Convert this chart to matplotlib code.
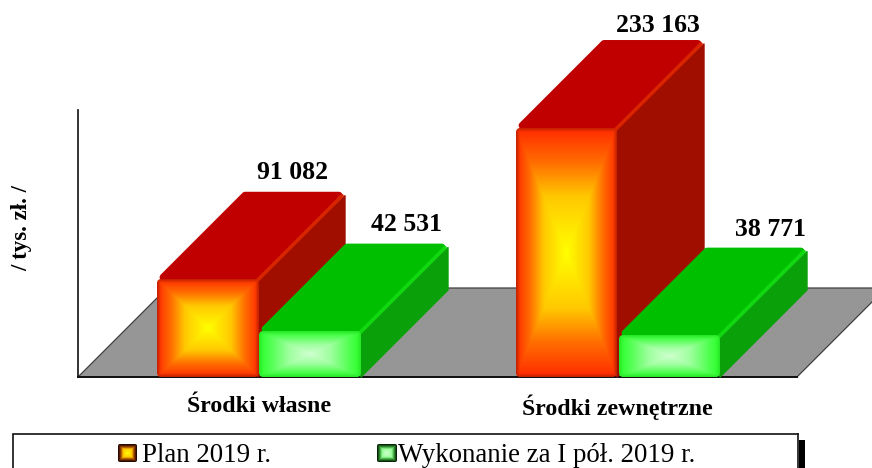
import numpy as np
import matplotlib
matplotlib.use("Agg")
import matplotlib.pyplot as plt
from matplotlib.patches import Polygon, Rectangle

kategorie = ["Środki własne", "Środki zewnętrzne"]
plan = [91082, 233163]
wykonanie = [42531, 38771]
etykiety_plan = ["91 082", "233 163"]
etykiety_wyk = ["42 531", "38 771"]
legenda = ["Plan 2019 r.", "Wykonanie za I pół. 2019 r."]
os_y = "/ tys. zł. /"

SZER, WYS = 872, 468
Y0 = 377                # piksel linii bazowej
VP = 233163 / 249.0     # ile tys. zl na jeden piksel
DX, DY = 87, 87 * VP    # glebokosc slupka 3D

plt.rcParams["font.family"] = ["Liberation Serif", "DejaVu Serif"]

# stopnie gradientu: pozycja, r, g, b
GRAD_CZ = ([0, 0.45, 0.72, 1], [255, 255, 255, 255], [255, 200, 110, 42], [0, 0, 0, 0])
GRAD_ZI = ([0, 0.4, 0.78, 1], [208, 160, 80, 40], [255, 255, 255, 255], [208, 160, 80, 40])


def gradient(w, h, stopnie, brzeg, ciemny, r=4):
    xx = (np.arange(w) + 0.5) / w * 2 - 1
    yy = (np.arange(h) + 0.5) / h * 2 - 1
    u, v = np.meshgrid(xx, yy)
    t = np.maximum(np.abs(u), np.abs(v))
    poz, cr, cg, cb = stopnie
    rgb = np.dstack([np.interp(t, poz, c) for c in (cr, cg, cb)]) / 255.0
    # odleglosc od krawedzi - ciemniejszy rant
    ex = np.minimum(np.arange(w) + 0.5, w - np.arange(w) - 0.5)
    ey = np.minimum(np.arange(h) + 0.5, h - np.arange(h) - 0.5)
    ex, ey = np.meshgrid(ex, ey)
    e = np.clip(np.minimum(ex, ey) / brzeg, 0, 1)[..., None]
    rgb = rgb * (ciemny + (1 - ciemny) * e)
    # zaokraglone rogi
    qx = np.clip(r - ex, 0, None)
    qy = np.clip(r - ey, 0, None)
    a = np.clip(r + 0.5 - np.hypot(qx, qy), 0, 1)
    return np.dstack([rgb, a])


def slupek(ax, x, wart, szer, stopnie, gora, bok, listwa, ciemny):
    # bok i gora jako wielokaty, przod jako obraz z gradientem
    d = 2.5
    s = d * 2 ** 0.5
    bok_p = [(x + szer, 0), (x + szer + DX, DY), (x + szer + DX, wart + DY - 3 * VP), (x + szer, wart)]
    gora_p = [(x + d + s, wart + d * VP), (x + DX - d + s, wart + DY - d * VP),
              (x + szer + DX - d - s, wart + DY - d * VP), (x + szer + d - s, wart + d * VP)]
    ax.add_patch(Polygon(bok_p, closed=True, fc=bok, ec=bok, lw=1, joinstyle="round", zorder=3))
    ax.add_patch(Polygon(gora_p, closed=True, fc=gora, ec=gora, lw=5, joinstyle="round", zorder=3))
    ax.plot([x + szer - 1, x + szer + DX - 3], [wart - 1 * VP, wart + DY - 3 * VP], color=listwa, lw=2.6,
            solid_capstyle="round", zorder=3)
    h = int(round(wart / VP))
    img = gradient(int(szer), h, stopnie, 4, ciemny)
    ax.imshow(img, extent=(x, x + szer, 0, wart), aspect="auto", zorder=4, origin="upper")


fig = plt.figure(figsize=(SZER / 100, WYS / 100), dpi=100)
ax = fig.add_axes([0, 0, 1, 1])
ax.set_xlim(0, SZER)
ax.set_ylim(-(WYS - Y0) * VP, Y0 * VP)
ax.axis("off")

# podloga
ax.add_patch(Polygon([(78, 0), (797, 0), (797 + 89, 89 * VP), (78 + 89, 89 * VP)], closed=True,
                     fc="#969696", ec="#404040", lw=0.9, zorder=1))
ax.plot([78, 797], [0, 0], color="#101010", lw=1.4, zorder=2)
ax.plot([78, 78], [0, 267 * VP], color="#101010", lw=1.2, zorder=2)

x_plan = [157, 516]
x_wyk = [259, 619]
dl_plan = [85, 91]
dl_wyk = [96, 100]
nad = [20 * VP, 16 * VP]
nad_w = [20 * VP, 19 * VP]

for i in range(len(kategorie)):
    slupek(ax, x_plan[i], plan[i], 101, GRAD_CZ, "#c00000", "#a00e00", "#d82400", 0.75)
    slupek(ax, x_wyk[i], wykonanie[i], 102 - i, GRAD_ZI, "#00bf00", "#0aa00a", "#12d812", 0.9)
    ax.text(x_plan[i] + 51 + dl_plan[i], plan[i] + DY + nad[i], etykiety_plan[i], ha="center",
            va="center", fontsize=18.5, fontweight="bold", zorder=6)
    ax.text(x_wyk[i] + 51 + dl_wyk[i], wykonanie[i] + DY + nad_w[i], etykiety_wyk[i], ha="center",
            va="center", fontsize=18.5, fontweight="bold", zorder=6)
    ax.text([259, 617][i], -30 * VP, kategorie[i], ha="center", va="center", fontsize=17.2,
            fontweight="bold", zorder=6)

fig.text(22 / SZER, 1 - 228 / WYS, os_y, rotation=90, ha="center", va="center", fontsize=16.5,
         fontweight="bold")

# ramka legendy (uciety dolem)
ax.plot([13, 13, 798], [-(WYS - Y0) * VP, -57 * VP, -57 * VP], color="#101010", lw=1.2, zorder=5,
        solid_joinstyle="miter")
ax.plot([798, 798], [-57 * VP, -(WYS - Y0) * VP], color="#101010", lw=1.2, zorder=5)
ax.add_patch(Rectangle((798.5, -(WYS - Y0) * VP), 6, 28 * VP, fc="black", ec="none", zorder=5))

for xk, st, tekst, xt in [(118, GRAD_CZ, legenda[0], 142), (377, GRAD_ZI, legenda[1], 398)]:
    img = gradient(19, 18, st, 5, 0.05, r=2)
    ax.imshow(img, extent=(xk, xk + 19, -85 * VP, -67 * VP), aspect="auto", zorder=6)
    ax.text(xt, -78 * VP, tekst, ha="left", va="center", fontsize=19.4, zorder=6)

ax.set_xlim(0, SZER)
ax.set_ylim(-(WYS - Y0) * VP, Y0 * VP)

fig.savefig("out.png", dpi=100)
